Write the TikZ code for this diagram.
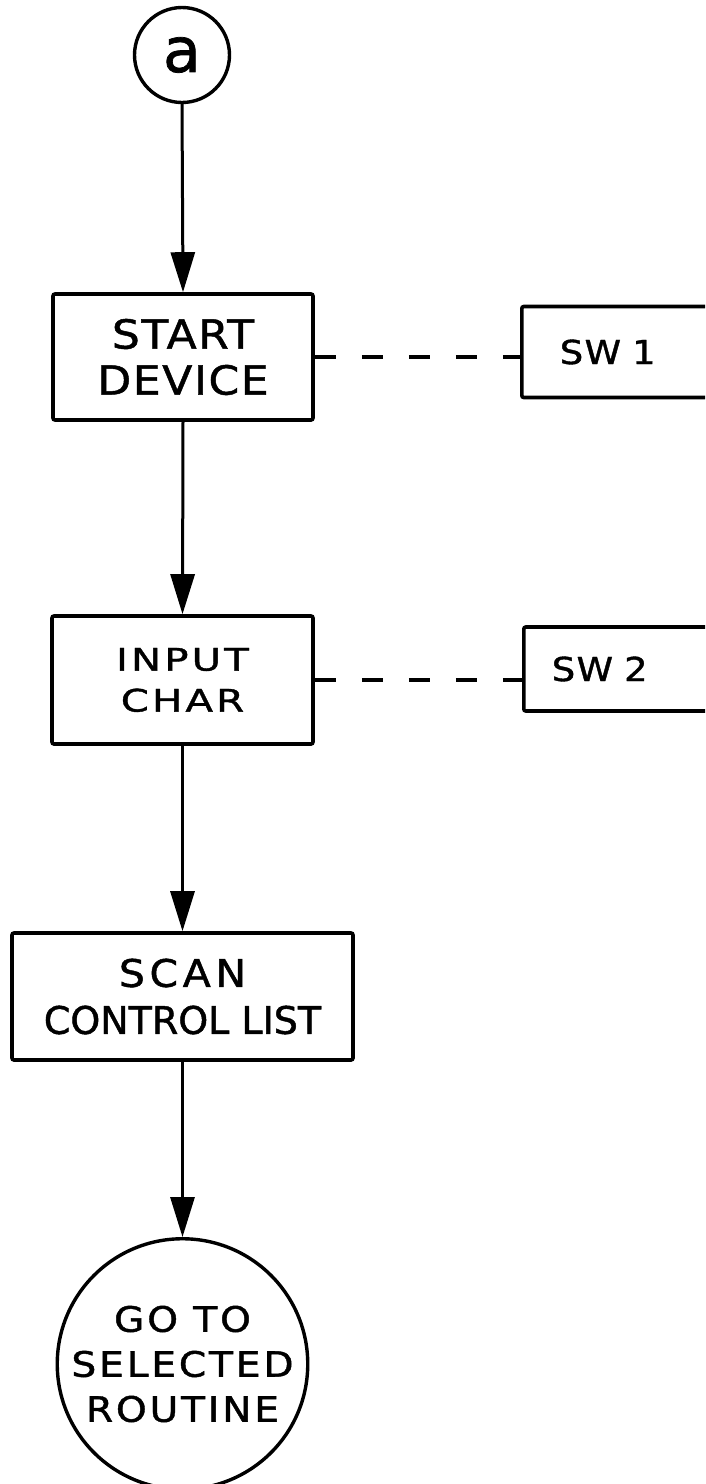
\documentclass[tikz,border=0pt]{standalone}
\usepackage{fontspec}
\usetikzlibrary{arrows.meta}
\newfontfamily\letface[FakeBold=1.2]{DejaVu Sans}
% lettering: size, baseline skip, letter spacing, horizontal stretch
\newcommand\lettering[4]{\letface\fontsize{#1}{#2}\selectfont\addfontfeatures{LetterSpace=#3,FakeStretch=#4}}
\tikzset{
  stepbox/.style={draw, rectangle, rounded corners=2pt, line width=3.6pt, inner sep=0pt, align=center},
  termcircle/.style={draw, circle, line width=3.4pt, inner sep=0pt, align=center},
  flow/.style={line width=3pt, -{Triangle[length=40pt, width=24pt]}},
  sidelink/.style={line width=3.4pt, dash pattern=on 21pt off 26pt}
}
\begin{document}
\begin{tikzpicture}[x=1pt, y=-1pt]
\useasboundingbox (0,0) rectangle (705,1484);
\fill[white] (0,0) rectangle (705,1484);
\begin{scope}
\clip (0,0) rectangle (705,1484);

% entry connector
\node[termcircle, minimum size=95pt, font=\lettering{62}{62}{0}{1}] (a) at (182,55) {a};

% main steps
\node[stepbox, minimum width=260pt, minimum height=126pt, font=\lettering{40}{46}{4}{1.1}] (start) at (183,357) {START\\DEVICE};
\node[stepbox, minimum width=261pt, minimum height=128pt, font=\lettering{31}{41}{10}{1.3}] (input) at (182.5,680) {INPUT\\CHAR};
\node[stepbox, minimum width=341pt, minimum height=127pt, font=\lettering{38}{47}{0}{1}] (scan) at (182.5,996.5) {{\addfontfeatures{LetterSpace=12,FakeStretch=1.08}SCAN}\\CONTROL LIST};
\node[termcircle, minimum size=240pt, font=\lettering{35}{45}{8}{1.12}] (go) at (182.5,1364) {GO TO\\SELECTED\\ROUTINE};

% switch boxes running off the right edge
\node[stepbox, anchor=west, minimum height=91pt, text width=150pt, align=left, inner xsep=38pt, font=\lettering{33}{33}{4}{1.12}] (sw1) at (520,352) {SW 1};
\node[stepbox, anchor=west, minimum height=84pt, text width=150pt, align=left, inner xsep=28pt, font=\lettering{33}{33}{4}{1.12}] (sw2) at (522,669) {SW\,\,2};

% flow
\draw[flow] (a.south) -- (start.north);
\draw[flow] (start.south) -- (input.north);
\draw[flow] (input.south) -- (scan.north);
\draw[flow] (scan.south) -- (go.north);

% dashed links to switches
\draw[sidelink] (start.east) -- (start.east -| sw1.west);
\draw[sidelink] (input.east) -- (input.east -| sw2.west);
\end{scope}
\end{tikzpicture}
\end{document}
